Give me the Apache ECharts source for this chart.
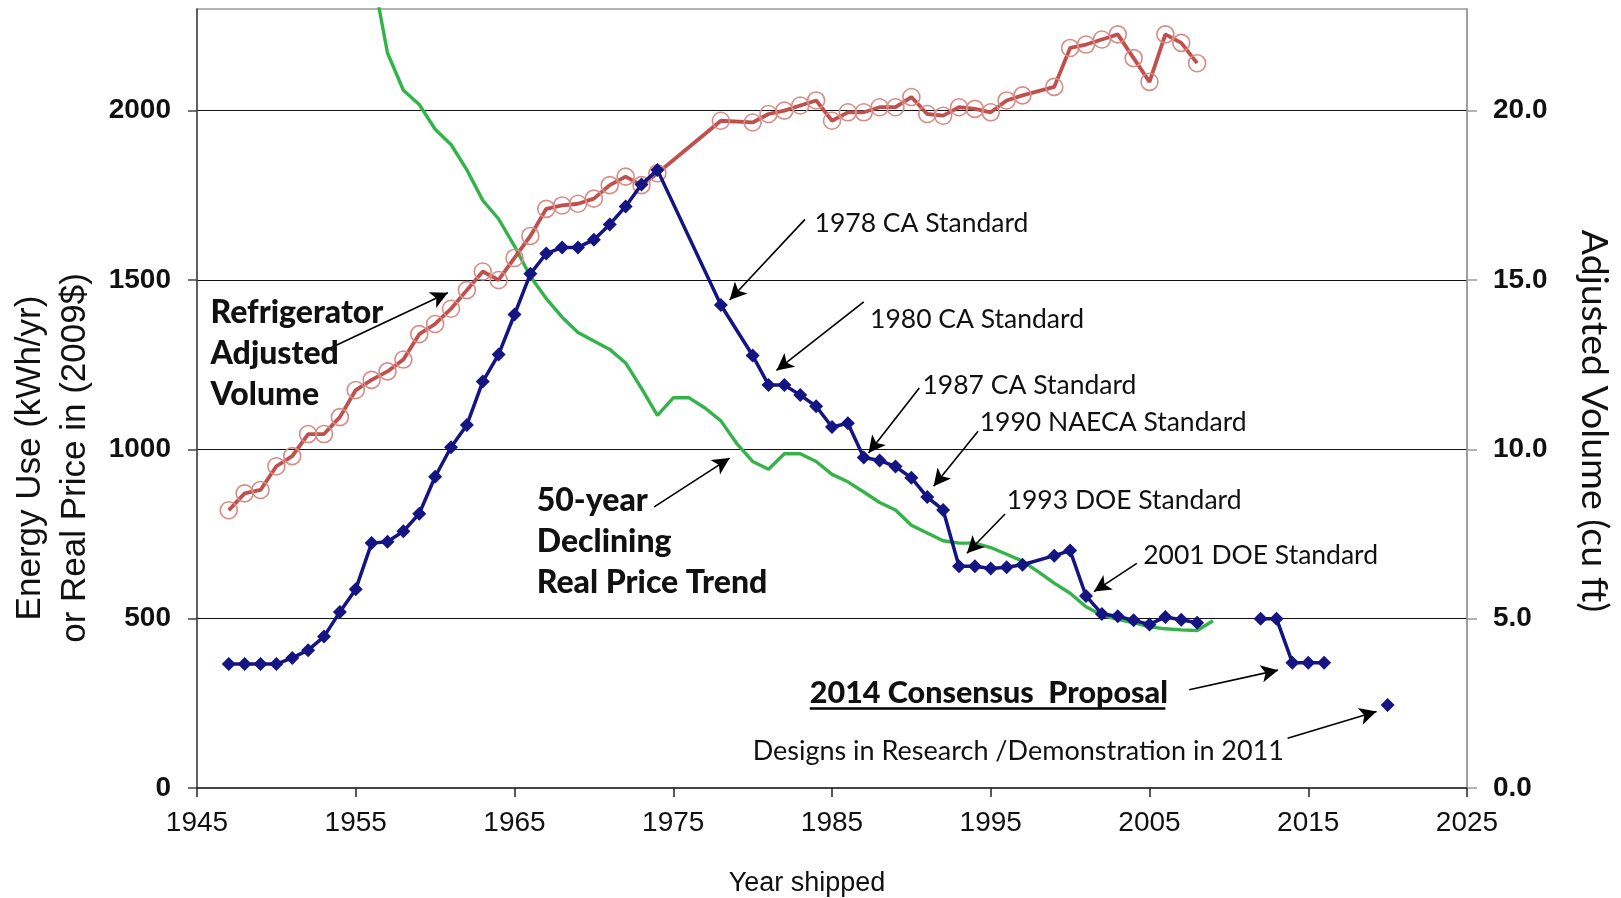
<!DOCTYPE html>
<html>
<head>
<meta charset="utf-8">
<script src="https://cdn.jsdelivr.net/npm/echarts@6/dist/echarts.min.js"></script>
<style>
html,body{margin:0;padding:0;background:#fff;}
#chart{width:1621px;height:898px;}
</style>
</head>
<body>
<div id="chart"></div>
<script>
// ---- Data ----
const xTicks = [1945, 1955, 1965, 1975, 1985, 1995, 2005, 2015, 2025];

// Energy use (kWh/yr), historical shipments
const energyYears = [1947,1948,1949,1950,1951,1952,1953,1954,1955,1956,1957,1958,1959,1960,1961,1962,1963,1964,1965,1966,1967,1968,1969,1970,1971,1972,1973,1974,1978,1980,1981,1982,1983,1984,1985,1986,1987,1988,1989,1990,1991,1992,1993,1994,1995,1996,1997,1999,2000,2001,2002,2003,2004,2005,2006,2007,2008];
const energyUse   = [366,366,366,366,384,407,447,520,587,723,727,758,810,919,1006,1072,1200,1280,1398,1518,1578,1596,1596,1619,1664,1717,1782,1825,1426,1277,1190,1190,1160,1127,1066,1077,976,967,949,916,859,821,655,655,648,652,659,686,701,567,514,507,495,483,505,497,488];

// Energy use under the 2014 consensus proposal
const proposalYears = [2012,2013,2014,2015,2016];
const proposalUse   = [500,500,370,370,370];

// Designs in research / demonstration in 2011
const researchYears = [2020];
const researchUse   = [245];

// Refrigerator adjusted volume (cu ft), right axis
const volumeYears = [1947,1948,1949,1950,1951,1952,1953,1954,1955,1956,1957,1958,1959,1960,1961,1962,1963,1964,1965,1966,1967,1968,1969,1970,1971,1972,1973,1974,1978,1980,1981,1982,1983,1984,1985,1986,1987,1988,1989,1990,1991,1992,1993,1994,1995,1996,1997,1999,2000,2001,2002,2003,2004,2005,2006,2007,2008];
const volume      = [8.2,8.7,8.8,9.5,9.8,10.45,10.45,10.95,11.75,12.05,12.3,12.65,13.4,13.7,14.15,14.7,15.25,15.0,15.65,16.3,17.1,17.2,17.25,17.4,17.8,18.05,17.8,18.15,19.7,19.65,19.9,20.0,20.15,20.3,19.7,19.95,19.95,20.1,20.1,20.4,19.9,19.85,20.1,20.05,19.95,20.3,20.45,20.7,21.85,21.95,22.1,22.25,21.55,20.85,22.25,22.0,21.4];

// Real price (2009$), 50-year declining trend
const priceYears = [1956,1957,1958,1959,1960,1961,1962,1963,1964,1965,1966,1967,1968,1969,1970,1971,1972,1973,1974,1975,1976,1977,1978,1979,1980,1981,1982,1983,1984,1985,1986,1987,1988,1989,1990,1991,1992,1993,1994,1995,1996,1997,1998,1999,2000,2001,2002,2003,2004,2005,2006,2007,2008,2009];
const realPrice  = [2420,2170,2060,2018,1945,1900,1825,1735,1680,1600,1510,1445,1390,1345,1320,1295,1255,1180,1100,1152,1152,1122,1084,1017,964,941,987,987,964,926,904,874,843,821,776,753,730,723,723,710,690,670,638,605,575,535,510,498,488,476,470,467,465,494];

// Annotations: [text, year, value]
const standardNotes = [
  ['1978 CA Standard', 1983.9, 1667],
  ['1980 CA Standard', 1987.4, 1383],
  ['1987 CA Standard', 1990.7, 1188],
  ['1990 NAECA Standard', 1994.3, 1078],
  ['1993 DOE Standard', 1996.0, 849],
  ['2001 DOE Standard', 2004.6, 687]
];
const boldNotes = [
  ['Refrigerator\nAdjusted\nVolume', 1945.85, 1282],
  ['50-year\nDeclining\nReal Price Trend', 1966.4, 727]
];
const proposalNote = ['2014 Consensus  Proposal', 1983.6, 281];
const researchNote = ['Designs in Research /Demonstration in 2011', 1980.0, 107];
// Arrows: [fromYear, fromValue, toYear, toValue]
const arrows = [
  [1952.9, 1288, 1960.8, 1462],
  [1973.8, 830, 1978.55, 974],
  [1983.3, 1679, 1978.55, 1441],
  [1987.0, 1435, 1981.5, 1233],
  [1990.5, 1181, 1987.3, 989],
  [1994.2, 1053, 1991.4, 891],
  [1995.9, 809, 1993.5, 693],
  [2004.2, 663, 2001.5, 580],
  [2007.5, 290, 2013.1, 348],
  [2013.7, 147, 2019.3, 226]
];
const underline = [1983.6, 2006.0, 234];

const zip = (xs, ys) => xs.map((x, i) => [x, ys[i]]);

const NAVY = '#141482';
const RED = '#c0504d';
const GREEN = '#33b34a';
const NOTE_FONT = 'Lato';

const chart = echarts.init(document.getElementById('chart'), null, {renderer: 'canvas'});

const markPointData = [];
standardNotes.forEach(n => markPointData.push({
  coord: [n[1], n[2]],
  label: {formatter: n[0], fontSize: 26.5, fontWeight: 'normal'}
}));
boldNotes.forEach(n => markPointData.push({
  coord: [n[1], n[2]],
  label: {formatter: n[0], fontSize: 32, fontWeight: 900, lineHeight: 41}
}));
markPointData.push({coord: [proposalNote[1], proposalNote[2]],
  label: {formatter: proposalNote[0], fontSize: 30.5, fontWeight: 900}});
markPointData.push({coord: [researchNote[1], researchNote[2]],
  label: {formatter: researchNote[0], fontSize: 27, fontWeight: 'normal'}});

const markLineData = arrows.map(a => [
  {coord: [a[0], a[1]], symbol: 'none'},
  {coord: [a[2], a[3]], symbol: 'arrow', symbolSize: [13, 17]}
]);
markLineData.push([
  {coord: [underline[0], underline[2]], symbol: 'none'},
  {coord: [underline[1], underline[2]], symbol: 'none', lineStyle: {width: 2.5}}
]);

const plainNum = v => String(v);

const option = {
  backgroundColor: '#ffffff',
  animation: false,
  grid: {left: 197, right: 154, top: 9, bottom: 110, show: true,
         borderColor: '#9a9a9a', borderWidth: 1.5, backgroundColor: 'transparent'},
  xAxis: {
    type: 'value', min: xTicks[0], max: xTicks[xTicks.length - 1], interval: 10,
    axisLine: {show: true, lineStyle: {color: '#222', width: 1.5}},
    axisTick: {show: true, inside: false, length: 9, lineStyle: {color: '#222', width: 1.5}},
    axisLabel: {margin: 21, fontSize: 28, fontFamily: 'Liberation Sans', color: '#111', formatter: plainNum},
    splitLine: {show: false}
  },
  yAxis: [
    {
      type: 'value', min: 0, max: 2300, interval: 500,
      axisLine: {show: true, lineStyle: {color: '#444', width: 1.5}},
      axisTick: {show: true, length: 9, lineStyle: {color: '#444', width: 1.5}},
      axisLabel: {margin: 26, fontSize: 28, fontWeight: 'bold', fontFamily: 'Liberation Sans', color: '#111',
                  showMaxLabel: false, formatter: plainNum},
      splitLine: {show: true, showMaxLine: false, showMinLine: false, lineStyle: {color: '#111', width: 1.2}}
    },
    {
      type: 'value', min: 0, max: 23, interval: 5, position: 'right',
      axisLine: {show: true, lineStyle: {color: '#9a9a9a', width: 1.5}},
      axisTick: {show: true, length: 10, lineStyle: {color: '#9a9a9a', width: 1.5}},
      axisLabel: {margin: 26, fontSize: 28, fontWeight: 'bold', fontFamily: 'Liberation Sans', color: '#111',
                  showMaxLabel: false, formatter: v => v.toFixed(1)},
      splitLine: {show: false}
    }
  ],
  graphic: [
    {type: 'text', x: 53, y: 458, rotation: Math.PI / 2,
     style: {text: 'Energy Use (kWh/yr)\nor Real Price in (2009$)', font: '35px "Liberation Sans"',
             align: 'center', verticalAlign: 'middle', lineHeight: 45, fill: '#111'}},
    {type: 'text', x: 1594, y: 421, rotation: -Math.PI / 2,
     style: {text: 'Adjusted Volume (cu ft)', font: '37.5px Lato',
             align: 'center', verticalAlign: 'middle', fill: '#111'}},
    {type: 'text', x: 807, y: 884,
     style: {text: 'Year shipped', font: '27px "Liberation Sans"',
             align: 'center', verticalAlign: 'middle', fill: '#111'}}
  ],
  series: [
    {
      name: 'Real Price', type: 'line', yAxisIndex: 0, data: zip(priceYears, realPrice),
      showSymbol: false, symbol: 'none', clip: true,
      lineStyle: {color: GREEN, width: 3.4}, itemStyle: {color: GREEN}, z: 2
    },
    {
      name: 'Adjusted Volume', type: 'line', yAxisIndex: 1, data: zip(volumeYears, volume),
      symbol: 'circle', symbolSize: 17, clip: true,
      lineStyle: {color: RED, width: 3.8},
      itemStyle: {color: 'rgba(255,255,255,0)', borderColor: '#d98b85', borderWidth: 1.6}, z: 3
    },
    {
      name: 'Energy Use', type: 'line', yAxisIndex: 0, data: zip(energyYears, energyUse),
      symbol: 'diamond', symbolSize: 14,
      lineStyle: {color: NAVY, width: 3.5}, itemStyle: {color: NAVY}, z: 4
    },
    {
      name: '2014 Consensus Proposal', type: 'line', yAxisIndex: 0, data: zip(proposalYears, proposalUse),
      symbol: 'diamond', symbolSize: 14,
      lineStyle: {color: NAVY, width: 3.5}, itemStyle: {color: NAVY}, z: 4
    },
    {
      name: 'Designs in Research', type: 'scatter', yAxisIndex: 0, data: zip(researchYears, researchUse),
      symbol: 'diamond', symbolSize: 14, itemStyle: {color: NAVY, opacity: 1}, z: 4
    },
    {
      name: 'Annotations', type: 'scatter', yAxisIndex: 0, data: [], silent: true, z: 5,
      markLine: {
        silent: true, animation: false,
        symbol: ['none', 'arrow'],
        label: {show: false},
        lineStyle: {color: '#000', width: 1.6, type: 'solid'},
        emphasis: {disabled: true},
        data: markLineData
      },
      markPoint: {
        silent: true, animation: false,
        symbol: 'circle', symbolSize: 0,
        itemStyle: {color: 'transparent'},
        label: {show: true, position: 'right', distance: 0, color: '#111', fontFamily: NOTE_FONT,
                align: 'left', verticalAlign: 'middle'},
        data: markPointData
      }
    }
  ]
};
chart.setOption(option);
</script>
</body>
</html>
